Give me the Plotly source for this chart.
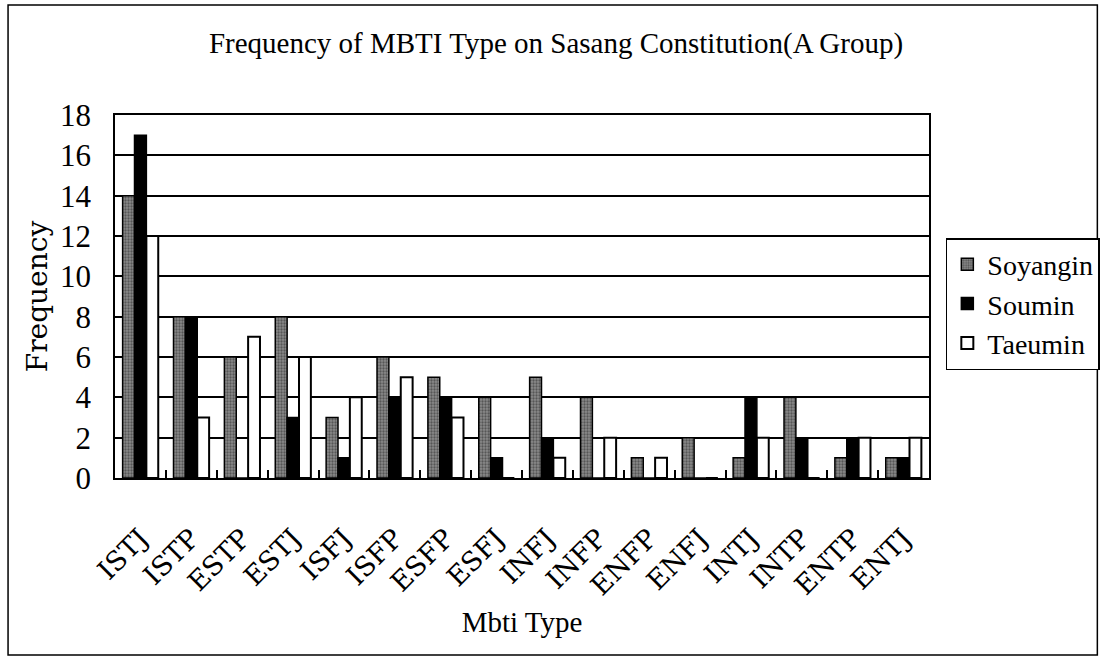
import plotly.graph_objects as go

categories = ["ISTJ", "ISTP", "ESTP", "ESTJ", "ISFJ", "ISFP", "ESFP", "ESFJ",
              "INFJ", "INFP", "ENFP", "ENFJ", "INTJ", "INTP", "ENTP", "ENTJ"]
soyangin = [14, 8, 6, 8, 3, 6, 5, 4, 5, 4, 1, 2, 1, 4, 1, 1]
soumin   = [17, 8, 0, 3, 1, 4, 4, 1, 2, 0, 0, 0, 4, 2, 2, 1]
taeumin  = [12, 3, 7, 6, 4, 5, 3, 0, 1, 2, 1, 0, 2, 0, 2, 2]
y_ticks = list(range(0, 19, 2))

W, H = 1112, 662
L, R, T, B = 115, 175, 115, 184
pw, ph = W - L - R, H - T - B

def px(x):
    return (x - L) / pw

def py(y):
    return (H - B - y) / ph

SERIF = "Times New Roman, Liberation Serif, serif"
WIDE = "DejaVu Serif, serif"

fig = go.Figure()
fig.add_trace(go.Bar(
    name="Soyangin", x=categories, y=soyangin,
    marker=dict(color="#777777", line=dict(color="black", width=1.5),
                pattern=dict(shape=".", fgcolor="#222222", bgcolor="#8a8a8a", size=3, solidity=0.45)),
))
fig.add_trace(go.Bar(
    name="Soumin", x=categories, y=soumin,
    marker=dict(color="black", line=dict(color="black", width=1.5)),
))
fig.add_trace(go.Bar(
    name="Taeumin", x=categories, y=taeumin,
    marker=dict(color="white", line=dict(color="black", width=2)),
))

fig.update_layout(
    width=W, height=H,
    margin=dict(l=L, r=R, t=T, b=B),
    paper_bgcolor="white", plot_bgcolor="white",
    barmode="group", bargap=0.3, bargroupgap=0,
    font=dict(family=SERIF, color="black"),
    title=dict(text="Frequency of MBTI Type on Sasang Constitution(A Group)",
               x=556 / W, xanchor="center", y=1 - 43 / H, yanchor="middle",
               font=dict(family=SERIF, size=29, color="black")),
    legend=dict(x=px(954), y=py(238), xanchor="left", yanchor="top",
                bordercolor="black", borderwidth=1.5, bgcolor="white",
                font=dict(family=SERIF, size=28, color="black"),
                itemwidth=30, tracegroupgap=0),
    xaxis=dict(
        title=dict(text="Mbti Type", font=dict(family=SERIF, size=29), standoff=12),
        tickangle=-45, tickfont=dict(family=WIDE, size=27),
        showline=True, linecolor="black", linewidth=1.5, mirror=True,
        ticks="inside", tickson="boundaries", ticklen=8, tickcolor="black", tickwidth=1.5,
        showgrid=False, ticklabelstandoff=32,
    ),
    yaxis=dict(
        title=dict(text="Frequency", font=dict(family=WIDE, size=28), standoff=4),
        range=[0, 18], tickvals=y_ticks, ticktext=[str(v) for v in y_ticks],
        tickfont=dict(family=SERIF, size=31),
        showline=True, linecolor="black", linewidth=1.5, mirror=True,
        showgrid=True, gridcolor="black", gridwidth=1.5,
        ticks="inside", ticklen=6, tickcolor="black",
        zeroline=False, ticklabelstandoff=16,
    ),
)

fig.add_shape(type="rect", xref="paper", yref="paper",
              x0=px(7), x1=px(1107), y0=py(655), y1=py(5),
              line=dict(color="black", width=1.5), fillcolor="rgba(0,0,0,0)", layer="below")

fig.write_html("out.html", config={"displayModeBar": False},
               post_script="document.body.style.margin='0';document.body.style.padding='0';")
